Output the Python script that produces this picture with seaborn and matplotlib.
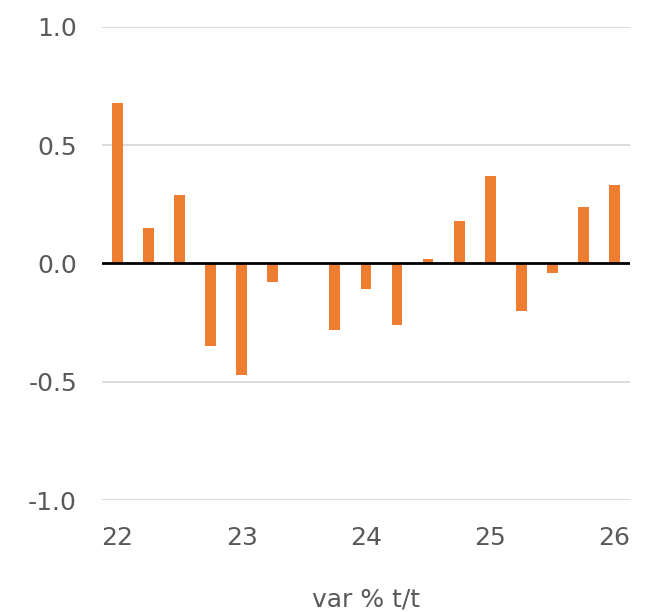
import matplotlib
matplotlib.use('Agg')
import matplotlib.pyplot as plt
import pandas as pd
import seaborn as sns

# Quarterly % change (t/t), 2022 Q1 to 2026 Q1
periods = ['22T1', '22T2', '22T3', '22T4',
           '23T1', '23T2', '23T3', '23T4',
           '24T1', '24T2', '24T3', '24T4',
           '25T1', '25T2', '25T3', '25T4',
           '26T1']
values = [0.68, 0.15, 0.29, -0.35,
          -0.47, -0.08, 0.0, -0.28,
          -0.11, -0.26, 0.02, 0.18,
          0.37, -0.20, -0.04, 0.24,
          0.33]
tick_pos = [0, 4, 8, 12, 16]
tick_labels = ['22', '23', '24', '25', '26']
y_ticks = [-1.0, -0.5, 0.0, 0.5, 1.0]

df = pd.DataFrame({'period': periods, 'value': values})

sns.set_theme(style='white')
plt.rcParams['font.family'] = ['DejaVu Sans']

fig = plt.figure(figsize=(6.46, 6.12), dpi=100)
ax = fig.add_axes([0.158, 0.183, 0.817, 0.773])

sns.barplot(data=df, x='period', y='value', color='#ED7D31', width=0.35,
            saturation=1, linewidth=0, ax=ax, zorder=3)

ax.set_xlim(-0.5, 16.5)
ax.set_ylim(-1.0, 1.0)
ax.set_yticks(y_ticks)
ax.set_yticklabels([f'{v:.1f}' for v in y_ticks])
ax.set_xticks(tick_pos)
ax.set_xticklabels(tick_labels)

# light grid, black zero line
for v in y_ticks:
    if v != 0:
        ax.axhline(v, color='#D9D9D9', lw=1.3, zorder=1)
ax.axhline(0, color='black', lw=2, zorder=4)

for s in ax.spines.values():
    s.set_visible(False)
ax.tick_params(axis='y', length=0, pad=18, labelsize=18, labelcolor='#595959')
ax.tick_params(axis='x', length=0, pad=19, labelsize=18, labelcolor='#595959')
ax.set_ylabel('')
ax.set_xlabel('var % t/t', fontsize=18, color='#595959', labelpad=27)

fig.savefig('out.png', dpi=100)
